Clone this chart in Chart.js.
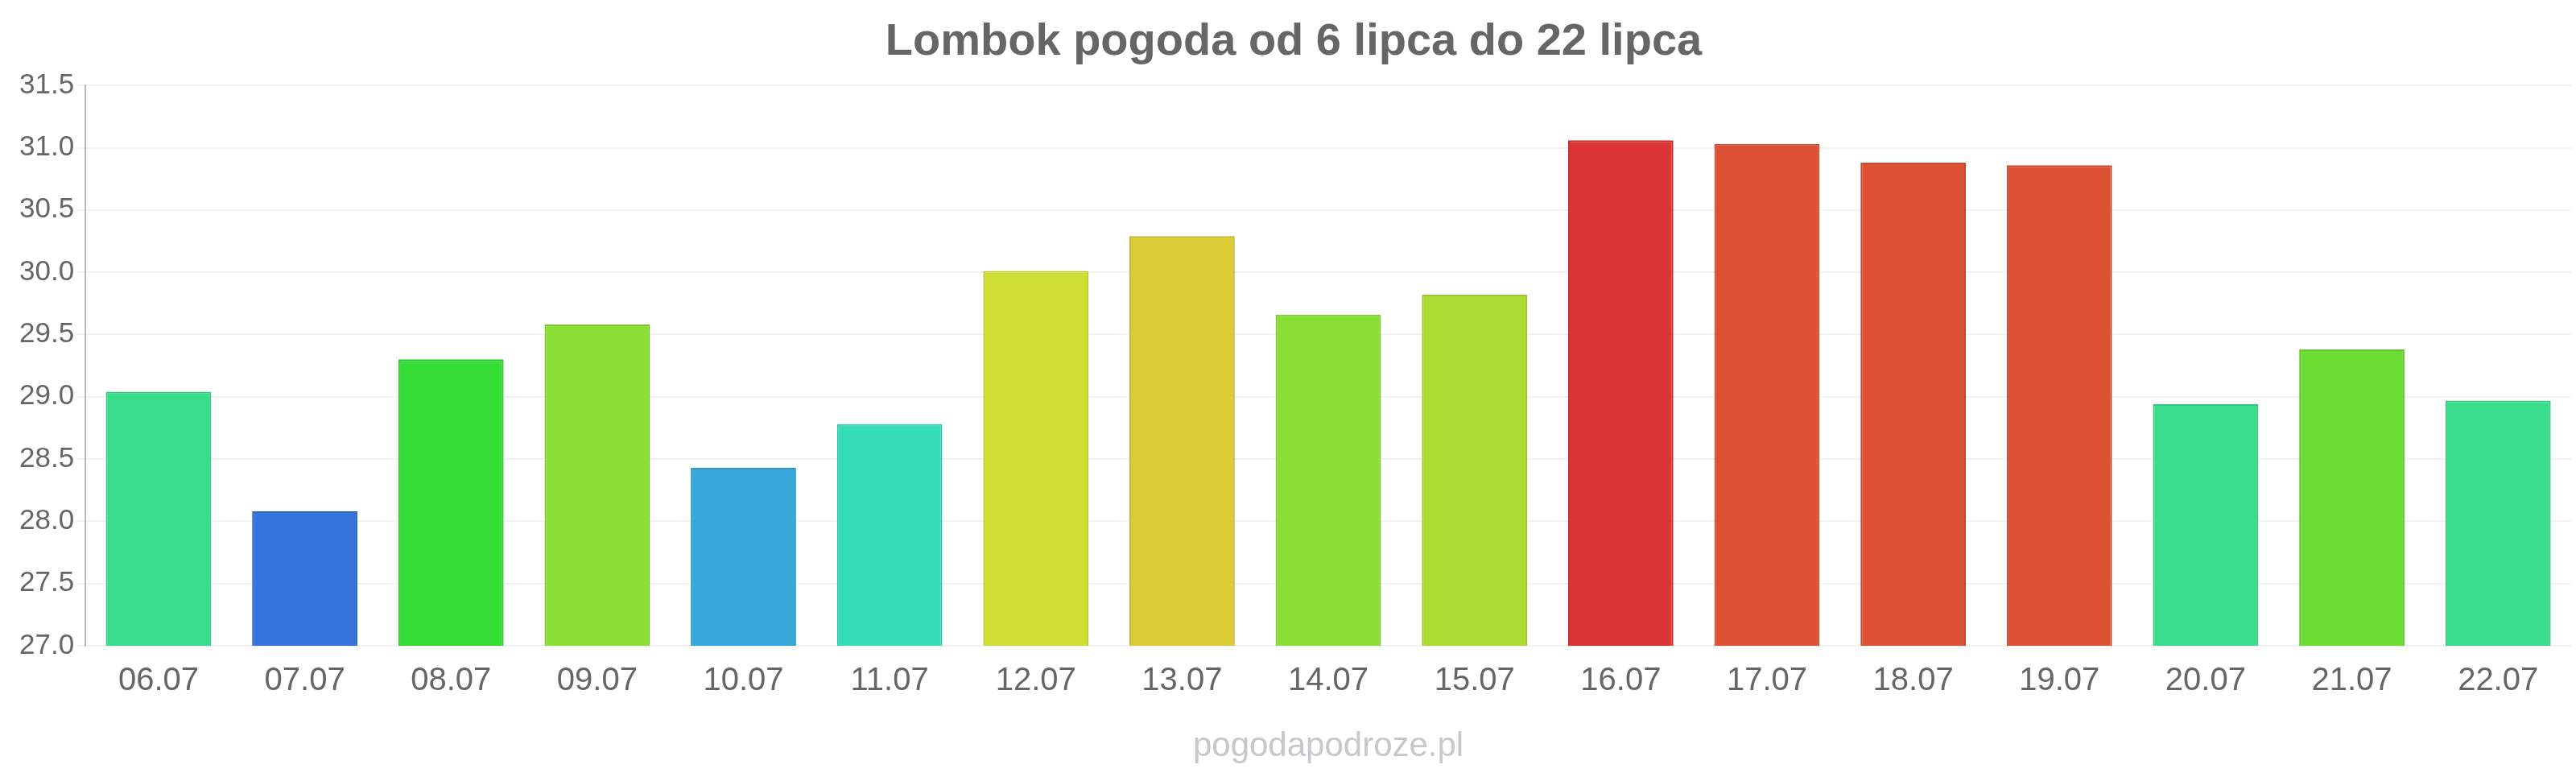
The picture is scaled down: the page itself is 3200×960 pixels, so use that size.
<!DOCTYPE html>
<html>
<head>
<meta charset="utf-8">
<script src="https://cdn.jsdelivr.net/npm/chart.js@4.4.0/dist/chart.umd.min.js"></script>
<style>
  body { margin: 0; background: #fff; }
  #wrap { width: 3200px; height: 960px; }
</style>
</head>
<body>
<div id="wrap"><canvas id="chart" width="3200" height="960"></canvas></div>
<script>
// data
const days = ['06.07', '07.07', '08.07', '09.07', '10.07', '11.07', '12.07', '13.07', '14.07',
  '15.07', '16.07', '17.07', '18.07', '19.07', '20.07', '21.07', '22.07'];
const temps = [29.04, 28.08, 29.30, 29.58, 28.43, 28.78, 30.01, 30.29, 29.66,
  29.82, 31.06, 31.03, 30.88, 30.86, 28.94, 29.38, 28.97];
const barColors = ['#38dc8a', '#3575db', '#36dc36', '#8adf34', '#36a8dc', '#34dcb8', '#cfdd34', '#dbcb34', '#8adf34',
  '#addd34', '#da3434', '#dc5034', '#dc5034', '#dc5034', '#38dc8a', '#6ddd34', '#38dc8a'];
const yTicks = [27.0, 27.5, 28.0, 28.5, 29.0, 29.5, 30.0, 30.5, 31.0, 31.5];

const FONT = '"Liberation Sans", Arial, sans-serif';

// slightly darker edge for each bar
const darker = (hex) => {
  const n = parseInt(hex.slice(1), 16);
  const r = Math.round(((n >> 16) & 255) * 0.9);
  const g = Math.round(((n >> 8) & 255) * 0.9);
  const b = Math.round((n & 255) * 0.9);
  return `rgb(${r}, ${g}, ${b})`;
};

// site name under the chart, centred on the plot area
const watermark = {
  id: 'watermark',
  afterDraw(chart) {
    const { ctx, chartArea } = chart;
    ctx.save();
    ctx.font = `42px ${FONT}`;
    ctx.fillStyle = '#c8c8cc';
    ctx.textAlign = 'center';
    ctx.textBaseline = 'middle';
    ctx.fillText('pogodapodroze.pl', (chartArea.left + chartArea.right) / 2, 927);
    ctx.restore();
  },
};

const ctx = document.getElementById('chart').getContext('2d');
new Chart(ctx, {
  type: 'bar',
  data: {
    labels: days,
    datasets: [{
      data: temps,
      backgroundColor: barColors,
      borderColor: barColors.map(darker),
      borderWidth: 2,
      barPercentage: 0.72,
      categoryPercentage: 1.0,
    }],
  },
  options: {
    responsive: false,
    animation: false,
    layout: { padding: { left: 20, right: 6, top: 0, bottom: 78 } },
    plugins: {
      legend: { display: false },
      tooltip: { enabled: false },
      title: {
        display: true,
        text: 'Lombok pogoda od 6 lipca do 22 lipca',
        color: '#666',
        font: { family: FONT, size: 56, weight: 'bold' },
        padding: { top: 19, bottom: 20 },
      },
    },
    scales: {
      x: {
        grid: { display: false },
        border: { display: false },
        ticks: {
          color: '#666',
          font: { family: FONT, size: 40 },
          padding: 12,
        },
      },
      y: {
        min: 27,
        max: 31.5,
        afterBuildTicks: (axis) => { axis.ticks = yTicks.map(v => ({ value: v })); },
        grid: { color: '#f2f2f2', lineWidth: 2, tickLength: 10 },
        border: { display: true, color: '#bbb', width: 2 },
        ticks: {
          color: '#666',
          font: { family: FONT, size: 35 },
          padding: 4,
          callback: (v) => Number(v).toFixed(1),
        },
      },
    },
  },
  plugins: [watermark],
});
</script>
</body>
</html>
